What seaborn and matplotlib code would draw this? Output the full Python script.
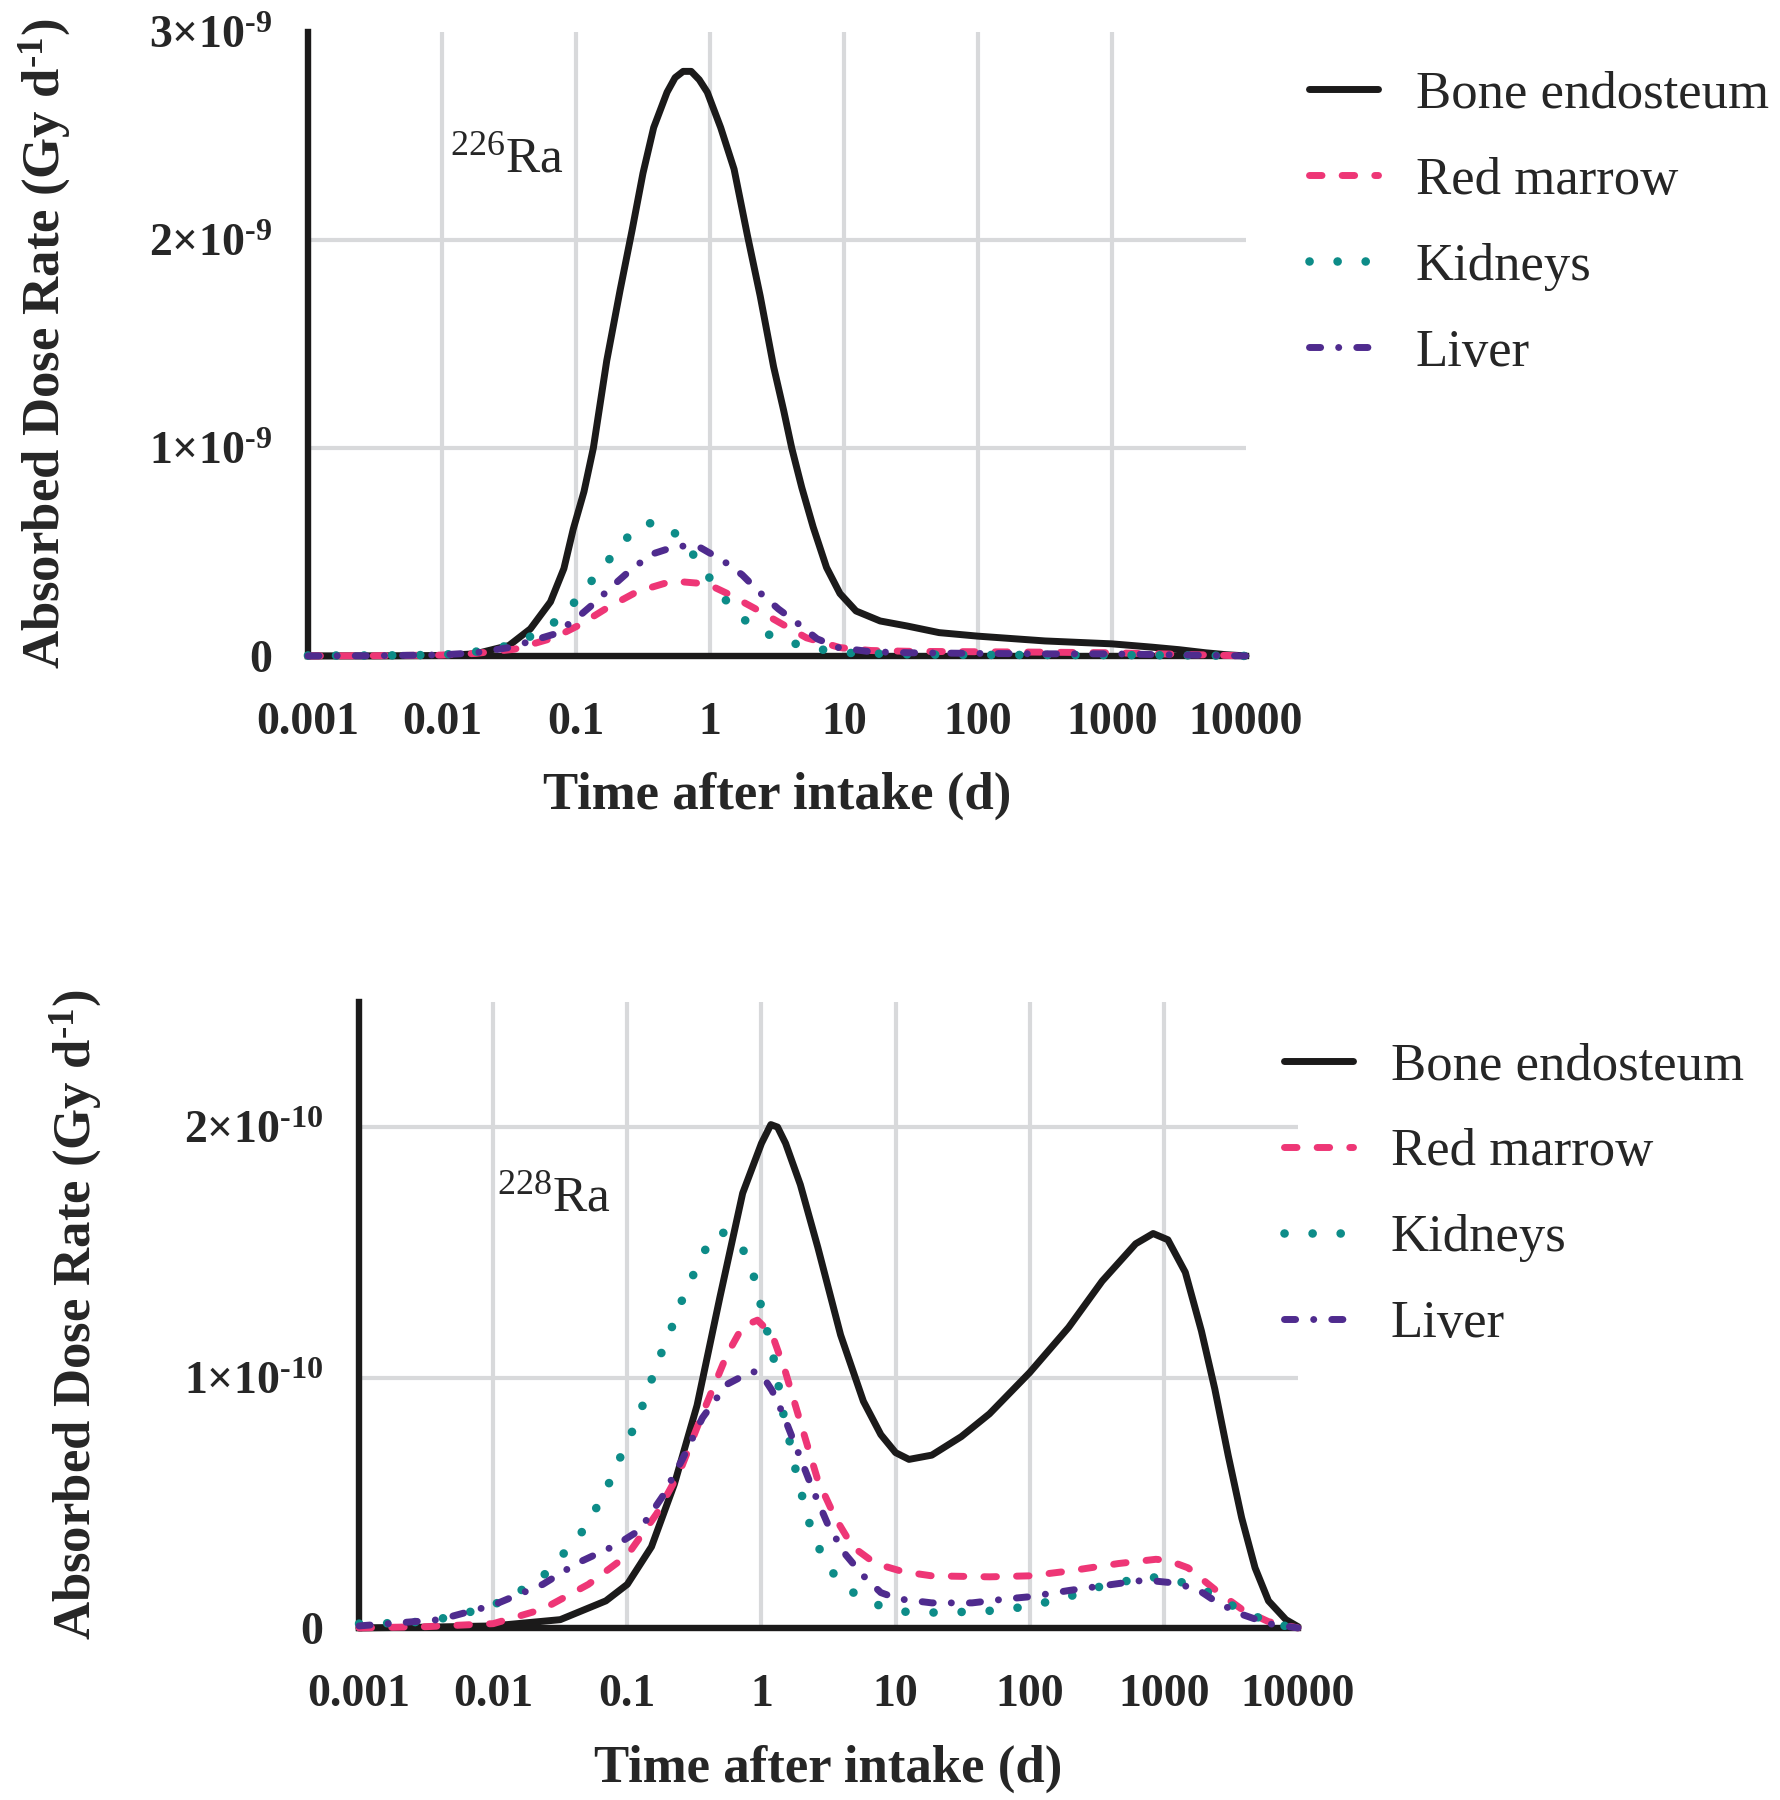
import numpy as np
import pandas as pd
import matplotlib
matplotlib.use('Agg')
import matplotlib.pyplot as plt
import seaborn as sns
from matplotlib.lines import Line2D

sns.set_style('white')
plt.rcParams['font.family'] = ['Liberation Serif', 'DejaVu Serif']
plt.rcParams['mathtext.default'] = 'regular'
plt.rcParams['lines.dash_capstyle'] = 'round'
plt.rcParams['lines.solid_capstyle'] = 'round'

ORGAOS = ['Bone endosteum', 'Red marrow', 'Kidneys', 'Liver']
CORES = {'Bone endosteum': '#1b1a1a', 'Red marrow': '#ee3676',
         'Kidneys': '#0d8c88', 'Liver': '#4f2b8e'}
TRACOS = {'Bone endosteum': '', 'Red marrow': (1.8, 2.9),
          'Kidneys': (0.01, 3.25), 'Liver': (1.6, 2.6, 0.01, 2.6)}
LARGURAS = {'Bone endosteum': 5.0, 'Red marrow': 5.0, 'Kidneys': 6.2, 'Liver': 5.0}

# ---- 226Ra (Gy/d x 1e-9), tempo em log10(dias) ----
ra226_bone_logt = [-3, -2.5, -2, -1.75, -1.5, -1.34, -1.19, -1.09, -1.02, -0.94, -0.87, -0.77,
                   -0.67, -0.58, -0.5, -0.42, -0.32, -0.26, -0.2, -0.14, -0.08, -0.02,
                   0.08, 0.18, 0.28, 0.375, 0.475, 0.55, 0.61, 0.685, 0.77, 0.87, 0.97, 1.09,
                   1.27, 1.47, 1.71, 2.0, 2.5, 3.0, 3.3, 3.5, 3.7, 3.85, 4.0]
ra226_bone = [0.0, 0.0, 0.002, 0.01, 0.05, 0.13, 0.26, 0.42, 0.61, 0.79, 1.0, 1.42,
              1.76, 2.05, 2.32, 2.54, 2.71, 2.78, 2.81, 2.81, 2.77, 2.71,
              2.54, 2.34, 2.02, 1.73, 1.39, 1.18, 1.0, 0.81, 0.62, 0.425, 0.30, 0.216,
              0.168, 0.144, 0.112, 0.095, 0.072, 0.058, 0.042, 0.03, 0.015, 0.006, 0.0]

ra226_marrow_logt = [-3, -2.5, -2, -1.75, -1.46, -1.16, -0.97, -0.77, -0.54, -0.28, -0.02, 0.13,
                     0.33, 0.52, 0.72, 0.97, 1.2, 1.5, 2.0, 2.5, 3.0, 3.5, 4.0]
ra226_marrow = [0.0, 0.001, 0.004, 0.012, 0.032, 0.088, 0.15, 0.23, 0.31, 0.36, 0.346, 0.30,
                0.23, 0.16, 0.087, 0.04, 0.026, 0.022, 0.02, 0.018, 0.015, 0.008, 0.0]

ra226_kidney_logt = [-3, -2.5, -2, -1.75, -1.5, -1.38, -1.19, -1.04, -0.91, -0.78, -0.65, -0.5,
                     -0.4, -0.29, -0.15, -0.03, 0.09, 0.22, 0.39, 0.58, 0.8, 1.0, 1.5, 2.0, 3.0,
                     3.5, 4.0]
ra226_kidney = [0.002, 0.002, 0.005, 0.02, 0.05, 0.08, 0.145, 0.235, 0.34, 0.44, 0.55, 0.635,
                0.64, 0.61, 0.51, 0.40, 0.29, 0.19, 0.115, 0.067, 0.034, 0.015, 0.007, 0.005, 0.004,
                0.003, 0.0]

ra226_liver_logt = [-3, -2.5, -2, -1.75, -1.5, -1.16, -1.0, -0.87, -0.72, -0.58, -0.43, -0.24,
                    -0.07, 0.1, 0.24, 0.38, 0.51, 0.66, 0.8, 0.96, 1.2, 1.5, 2.0, 2.5, 3.0, 3.5, 4.0]
ra226_liver = [0.0, 0.001, 0.005, 0.015, 0.04, 0.105, 0.178, 0.25, 0.34, 0.42, 0.49, 0.53,
               0.52, 0.457, 0.39, 0.30, 0.226, 0.154, 0.082, 0.04, 0.02, 0.015, 0.012, 0.01, 0.01,
               0.005, 0.0]

# ---- 228Ra (Gy/d x 1e-10) ----
ra228_bone_logt = [-3, -2.5, -2.0, -1.5, -1.16, -1.0, -0.82, -0.65, -0.48, -0.31, -0.14, 0, 0.07,
                   0.12, 0.18, 0.29, 0.42, 0.59, 0.76, 0.89, 1.0, 1.1, 1.27, 1.49, 1.7, 2.0, 2.29,
                   2.54, 2.79, 2.92, 3.03, 3.16, 3.28, 3.38, 3.48, 3.58, 3.68, 3.78, 3.91, 4.0]
ra228_bone = [0.0, 0.003, 0.008, 0.033, 0.108, 0.174, 0.324, 0.573, 0.889, 1.32, 1.736, 1.935, 2.01,
              2.0, 1.935, 1.77, 1.52, 1.17, 0.905, 0.772, 0.70, 0.673, 0.69, 0.764, 0.855, 1.02, 1.20,
              1.385, 1.534, 1.575, 1.55, 1.42, 1.186, 0.954, 0.688, 0.44, 0.24, 0.108, 0.033, 0.005]

ra228_marrow_logt = [-3, -2.5, -2, -1.63, -1.29, -1.0, -0.78, -0.61, -0.44, -0.26, -0.14, -0.03,
                     0.08, 0.18, 0.29, 0.42, 0.55, 0.68, 0.85, 1.06, 1.27, 1.7, 2.0, 2.29, 2.66, 2.94,
                     3.03, 3.18, 3.41, 3.58, 3.78, 4.0]
ra228_marrow = [0.0, 0.005, 0.017, 0.075, 0.174, 0.29, 0.457, 0.623, 0.855, 1.088, 1.204, 1.229,
                1.171, 1.02, 0.822, 0.59, 0.44, 0.324, 0.257, 0.224, 0.208, 0.204, 0.208, 0.227, 0.257,
                0.274, 0.27, 0.24, 0.141, 0.075, 0.025, 0.0]

ra228_kidney_logt = [-3, -2.64, -2.42, -2.21, -2.0, -1.82, -1.64, -1.5, -1.36, -1.25, -1.15, -1.07,
                     -0.98, -0.9, -0.83, -0.76, -0.68, -0.61, -0.52, -0.44, -0.31, -0.16, -0.07,
                     -0.02, 0.03, 0.08, 0.12, 0.15, 0.2, 0.24, 0.29, 0.34, 0.41, 0.5, 0.63, 0.82,
                     1.02, 1.23, 1.44, 1.65, 1.85, 2.06, 2.29, 2.47, 2.67, 2.89, 3.08, 3.28, 3.47,
                     3.66, 3.86, 4.0]
ra228_kidney = [0.017, 0.02, 0.033, 0.058, 0.091, 0.141, 0.2, 0.282, 0.365, 0.46, 0.561, 0.661,
                0.764, 0.867, 0.975, 1.08, 1.183, 1.287, 1.395, 1.495, 1.586, 1.537, 1.432,
                1.324, 1.213, 1.105, 0.997, 0.885, 0.772, 0.664, 0.556, 0.445, 0.34, 0.241, 0.158, 0.1,
                0.066, 0.061, 0.063, 0.066, 0.075, 0.095, 0.124, 0.158, 0.182, 0.204, 0.191, 0.158, 0.1,
                0.05, 0.012, 0.0]

ra228_liver_logt = [-3, -2.4, -2.0, -1.63, -1.38, -1.08, -0.91, -0.74, -0.59, -0.44, -0.26, -0.07,
                    0, 0.08, 0.16, 0.27, 0.38, 0.5, 0.63, 0.76, 0.89, 1.02, 1.27, 1.57, 1.83, 1.99,
                    2.3, 2.66, 2.86, 3.03, 3.24, 3.38, 3.56, 3.78, 4.0]
ra228_liver = [0.008, 0.033, 0.091, 0.174, 0.257, 0.332, 0.39, 0.523, 0.673, 0.839, 0.972, 1.025,
               1.013, 0.947, 0.855, 0.706, 0.556, 0.407, 0.291, 0.208, 0.141, 0.116, 0.1, 0.1, 0.116,
               0.124, 0.15, 0.177, 0.191, 0.182, 0.158, 0.108, 0.058, 0.017, 0.0]

XTICKS = [0.001, 0.01, 0.1, 1, 10, 100, 1000, 10000]
XTICK_LABELS = ['0.001', '0.01', '0.1', '1', '10', '100', '1000', '10000']
Y226_TICKS = [0, 1e-9, 2e-9, 3e-9]
Y226_LABELS = ['0', '1×10$^{‐9}$', '2×10$^{‐9}$', '3×10$^{‐9}$']
Y228_TICKS = [0, 1e-10, 2e-10]
Y228_LABELS = ['0', '1×10$^{‐10}$', '2×10$^{‐10}$']


def montar_df(series, escala):
    partes = []
    for orgao, (logt, vals) in zip(ORGAOS, series):
        partes.append(pd.DataFrame({'tempo': np.power(10.0, logt),
                                    'taxa': np.array(vals) * escala,
                                    'orgao': orgao}))
    return pd.concat(partes, ignore_index=True)


def desenhar_painel(ax, df, yticks, ylabels, ytop, rotulo, pos_rotulo, ylab_x):
    for x in XTICKS[1:-1]:
        ax.axvline(x, color='#d8d9db', lw=3, zorder=0)
    for y in yticks[1:]:
        if y < ytop:
            ax.axhline(y, color='#d8d9db', lw=3, zorder=0)
    n_antes = len(ax.get_lines())
    sns.lineplot(data=df, x='tempo', y='taxa', hue='orgao', style='orgao',
                 hue_order=ORGAOS, style_order=ORGAOS, palette=CORES, dashes=TRACOS,
                 estimator=None, sort=False, linewidth=5.0, legend=False, ax=ax,
                 clip_on=False, zorder=3)
    cor_para_orgao = {matplotlib.colors.to_hex(c): o for o, c in CORES.items()}
    for linha in ax.get_lines()[n_antes:]:
        orgao = cor_para_orgao.get(matplotlib.colors.to_hex(linha.get_color()))
        if orgao:
            linha.set_linewidth(LARGURAS[orgao])
    ax.set_xscale('log')
    ax.set_xlim(1e-3, 1e4)
    ax.set_ylim(0, ytop)
    ax.set_xticks(XTICKS)
    ax.set_xticklabels(XTICK_LABELS)
    ax.xaxis.set_minor_locator(matplotlib.ticker.NullLocator())
    ax.set_yticks(yticks)
    ax.set_yticklabels(ylabels)
    for lado in ['top', 'right']:
        ax.spines[lado].set_visible(False)
    for lado in ['left', 'bottom']:
        ax.spines[lado].set_linewidth(4.6)
        ax.spines[lado].set_color('#1b1a1a')
    ax.tick_params(axis='both', length=18, width=4.6, color='#1b1a1a', labelsize=33,
                   direction='out')
    ax.tick_params(axis='y', pad=8)
    ax.tick_params(axis='x', pad=15)
    for t in ax.get_xticklabels() + ax.get_yticklabels():
        t.set_fontweight('bold')
    ax.set_xlabel('Time after intake (d)', fontsize=38, fontweight='bold')
    ax.set_ylabel('Absorbed Dose Rate (Gy d$^{‐1}$)', fontsize=38, fontweight='bold')
    ax.xaxis.set_label_coords(0.5, -0.186)
    ax.yaxis.set_label_coords(ylab_x, 0.5)
    ax.text(pos_rotulo[0], pos_rotulo[1], rotulo, transform=ax.transAxes,
            fontsize=37, ha='left', va='baseline')


def legenda(fig, pos):
    alcas = []
    for orgao in ORGAOS:
        if TRACOS[orgao] == '':
            alcas.append(Line2D([], [], color=CORES[orgao], lw=LARGURAS[orgao], ls='-'))
        else:
            alcas.append(Line2D([], [], color=CORES[orgao], lw=LARGURAS[orgao],
                                dashes=TRACOS[orgao]))
    fig.legend(alcas, ORGAOS, loc='upper left', bbox_to_anchor=pos,
               bbox_transform=fig.transFigure, frameon=False, fontsize=38,
               handlelength=1.3, handletextpad=0.72, labelspacing=0.72,
               borderpad=0, borderaxespad=0)


fig = plt.figure(figsize=(17.81, 18), dpi=100)
ax1 = fig.add_axes([0.1729, 0.6356, 0.5267, 0.3467])
ax2 = fig.add_axes([0.2016, 0.0956, 0.5272, 0.3478])

df226 = montar_df([(ra226_bone_logt, ra226_bone), (ra226_marrow_logt, ra226_marrow),
                   (ra226_kidney_logt, ra226_kidney), (ra226_liver_logt, ra226_liver)], 1e-9)
df228 = montar_df([(ra228_bone_logt, ra228_bone), (ra228_marrow_logt, ra228_marrow),
                   (ra228_kidney_logt, ra228_kidney), (ra228_liver_logt, ra228_liver)], 1e-10)

desenhar_painel(ax1, df226, Y226_TICKS, Y226_LABELS, 3e-9, '$^{226}$Ra', (0.151, 0.776), -0.25)
desenhar_painel(ax2, df228, Y228_TICKS, Y228_LABELS, 2.5e-10, '$^{228}$Ra', (0.147, 0.666), -0.272)

legenda(fig, (0.735, 0.9606))
legenda(fig, (0.721, 0.4211))

fig.savefig('out.png', dpi=100)
plt.close(fig)
